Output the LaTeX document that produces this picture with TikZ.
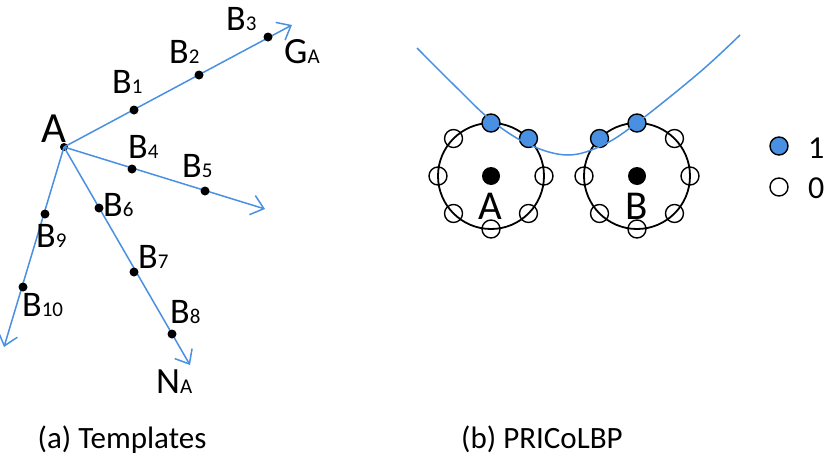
\documentclass[tikz,border=0pt]{standalone}
\usepackage{fontspec}
\setmainfont{Carlito}
\usetikzlibrary{arrows.meta,calc}
\definecolor{lblue}{RGB}{74,144,226}
\newcommand{\lblsub}[2]{#1{\fontsize{21}{21}\selectfont #2}}
\begin{document}
\begin{tikzpicture}[x=1pt,y=-1pt,
  dot/.style={circle,fill=black,inner sep=0pt,minimum size=9pt},
  ray/.style={draw=lblue,line width=1.5pt,-{Straight Barb[length=12pt,width=20pt]}},
  lbl/.style={inner sep=0pt,anchor=base west,font=\fontsize{36}{36}\selectfont},
  biglbl/.style={inner sep=0pt,anchor=base,font=\fontsize{42}{42}\selectfont},
  captext/.style={inner sep=0pt,anchor=base,font=\fontsize{31}{31}\selectfont},
  bigc/.style={circle,draw=black,line width=1.8pt,inner sep=0pt,minimum size=106pt},
  openc/.style={circle,draw=black,line width=1.4pt,inner sep=0pt,minimum size=18pt},
  fillc/.style={circle,draw=black,line width=1.4pt,fill=lblue,inner sep=0pt,minimum size=18pt},
  cdot/.style={circle,fill=black,inner sep=0pt,minimum size=18pt}]
\useasboundingbox (0,0) rectangle (830,466);
% ---------- (a) Templates ----------
\coordinate (tG) at (292,25);
\coordinate (t5) at (265,209);
\coordinate (tN) at (190,365);
\coordinate (t10) at (4,347);
\node[dot,minimum size=8pt] (a) at (64,147) {};
\draw[ray] (a.center) -- (tG);
\draw[ray] (a.center) -- (t5);
\draw[ray] (a.center) -- (tN);
\draw[ray] (a.center) -- (t10);
\node[dot] (b1) at (134,110) {};
\node[dot] (b2) at (199,75) {};
\node[dot] (b3) at (268,37) {};
\node[dot] (b4) at (132,169) {};
\node[dot] (b5) at (205,191) {};
\node[dot] (b6) at (99,208) {};
\node[dot] (b7) at (134,272) {};
\node[dot] (b8) at (172,334) {};
\node[dot] (b9) at (45,214) {};
\node[dot] (b10) at (23,287) {};
\node[lbl,font=\fontsize{43}{43}\selectfont] (la) at (41,142) {A};
\node[lbl] (lb1) at (112,93) {\lblsub{B}{1}};
\node[lbl] (lb2) at (169,63) {\lblsub{B}{2}};
\node[lbl] (lb3) at (226,30) {\lblsub{B}{3}};
\node[lbl] (lb4) at (128,158) {\lblsub{B}{4}};
\node[lbl] (lb5) at (182,177) {\lblsub{B}{5}};
\node[lbl] (lb6) at (103,216) {\lblsub{B}{6}};
\node[lbl] (lb7) at (138,268) {\lblsub{B}{7}};
\node[lbl] (lb8) at (170,323) {\lblsub{B}{8}};
\node[lbl] (lb9) at (36,247) {\lblsub{B}{9}};
\node[lbl] (lb10) at (22,316) {\lblsub{B}{10}};
\node[lbl,font=\fontsize{37}{37}\selectfont] (lg) at (284,63) {\lblsub{G}{A}};
\node[lbl,font=\fontsize{37}{37}\selectfont] (ln) at (156,393) {\lblsub{N}{A}};
\node[captext] (capa) at (122,448) {(a) Templates};
% ---------- (b) PRICoLBP ----------
\node[bigc] (ca) at (491,176) {};
\node[bigc] (cb) at (637,176) {};
\foreach \ang/\st in {0/openc,45/openc,90/openc,135/openc,180/openc,225/openc,270/fillc,315/fillc}
  \node[\st] (pa\ang) at ([shift={(\ang:53)}]ca.center) {};
\foreach \ang/\st in {0/openc,45/openc,90/openc,135/openc,180/openc,225/fillc,270/fillc,315/openc}
  \node[\st] (pb\ang) at ([shift={(\ang:53)}]cb.center) {};
\node[cdot] (da) at (ca.center) {};
\node[cdot] (db) at (cb.center) {};
\node[biglbl,font=\fontsize{41}{41}\selectfont] (lA) at (490,219) {A};
\node[biglbl,font=\fontsize{41}{41}\selectfont] (lB) at (637,219) {B};
\draw[lblue,line width=1.5pt] plot[smooth,tension=0.6] coordinates
  {(417,48) (455,86) (492,121) (530,145) (568,155) (603,145) (638,122) (700,72) (740,35)};
\node[fillc] (l1) at (779,146) {};
\node[openc] (l0) at (779,187) {};
\node[lbl,font=\fontsize{32}{32}\selectfont] (t1) at (808,158) {1};
\node[lbl,font=\fontsize{32}{32}\selectfont] (t0) at (808,198) {0};
\node[captext] (capb) at (542,448) {(b) PRICoLBP};
\end{tikzpicture}
\end{document}
